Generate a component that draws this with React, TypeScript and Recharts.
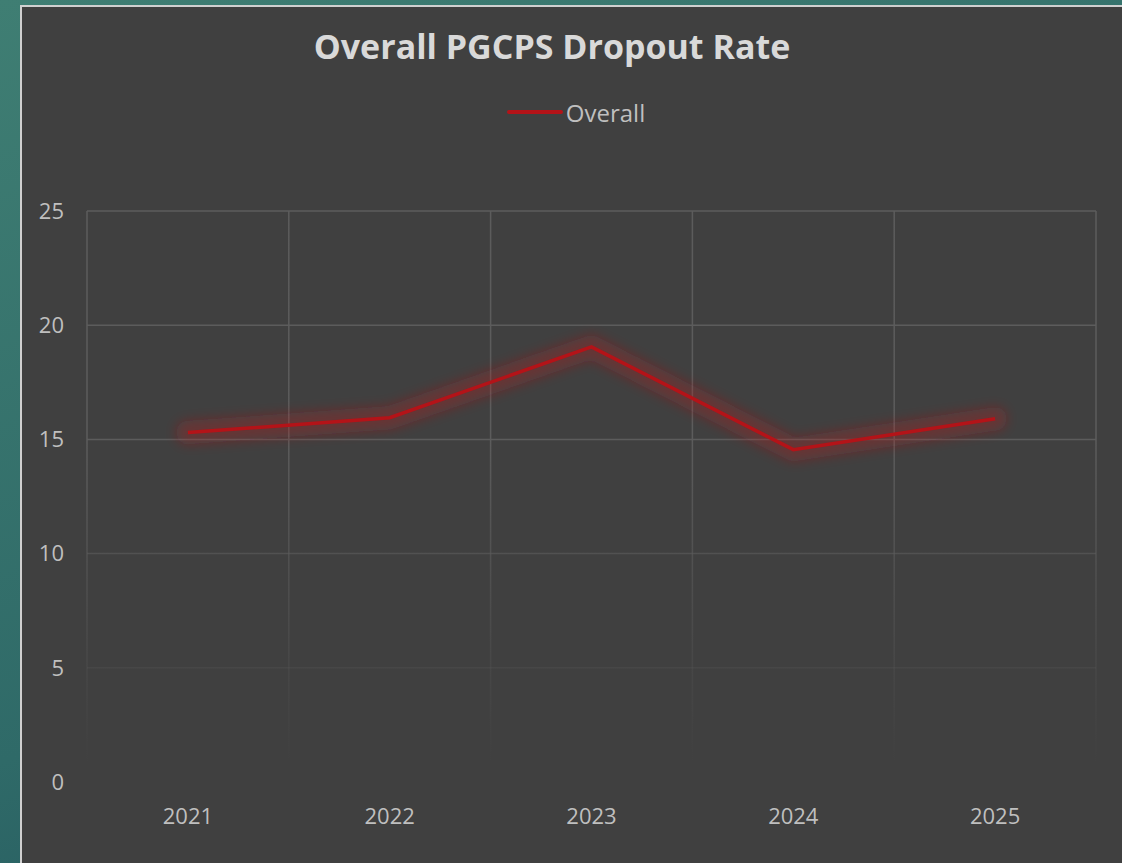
import { LineChart, Line, XAxis, YAxis, CartesianGrid, Legend } from "recharts"

const years = ['2021', '2022', '2023', '2024', '2025']
const overall = [15.3, 15.95, 19.05, 14.55, 15.9]
const yTicks = [0, 5, 10, 15, 20, 25]
const seriesName = 'Overall'

const data = years.map((year, i) => ({ year, overall: overall[i] }))

const FONT = '"Open Sans", "DejaVu Sans", sans-serif'

const renderLegend = () => (
    <div style={{ display: 'flex', justifyContent: 'center', alignItems: 'center', height: 30, paddingLeft: 10, fontFamily: FONT }}>
        <svg width={56} height={10} style={{ marginRight: 3 }}>
            <line x1={2} y1={5} x2={54} y2={5} stroke="#b41318" strokeWidth={4} strokeLinecap="round" />
        </svg>
        <span style={{ color: '#bfbfbf', fontSize: 24 }}>{seriesName}</span>
    </div>
)

const App = () => {
    return (
        <div style={{ position: 'fixed', left: 0, top: 0, width: 1122, height: 863, background: 'linear-gradient(160deg, #3f7e73 0%, #2f6a68 60%, #1f4f5a 100%)', overflow: 'hidden' }}>
            <div style={{ position: 'absolute', left: 20, top: 5, width: 1102, height: 858, background: '#404040', boxShadow: 'inset 2px 2px 0 #d0d0d0' }}>
                <div style={{ position: 'absolute', left: 0, top: 18, width: 1064, textAlign: 'center', fontFamily: FONT, fontWeight: 700, fontSize: 34, color: '#d9d9d9' }}>
                    Overall PGCPS Dropout Rate
                </div>
                <LineChart width={1102} height={858} data={data} margin={{ top: 176, right: 26, left: 0, bottom: 0 }}>
                    <defs>
                        <linearGradient id="gridFade" gradientUnits="userSpaceOnUse" x1="0" y1="206" x2="0" y2="777">
                            <stop offset="0" stopColor="#5c5c5c" stopOpacity={1} />
                            <stop offset="0.4" stopColor="#5c5c5c" stopOpacity={1} />
                            <stop offset="0.8" stopColor="#5c5c5c" stopOpacity={0.25} />
                            <stop offset="0.97" stopColor="#5c5c5c" stopOpacity={0} />
                        </linearGradient>
                        <filter id="softBlur" filterUnits="userSpaceOnUse" x="0" y="100" width="1102" height="600">
                            <feGaussianBlur in="SourceGraphic" stdDeviation="6" />
                        </filter>
                    </defs>
                    <CartesianGrid
                        stroke="url(#gridFade)"
                        strokeWidth={1.5}
                        verticalCoordinatesGenerator={({ offset }: any) =>
                            Array.from({ length: years.length + 1 }, (_, i) => offset.left + (i * offset.width) / years.length)
                        }
                    />
                    <XAxis dataKey="year" scale="band" axisLine={false} tickLine={false} tickMargin={20}
                        tick={{ fill: '#bfbfbf', fontSize: 22, fontFamily: FONT }} height={81} />
                    <YAxis domain={[0, 25]} ticks={yTicks} axisLine={false} tickLine={false} width={67} tickMargin={17}
                        tick={{ fill: '#bfbfbf', fontSize: 22, fontFamily: FONT }} />
                    <Legend verticalAlign="top" align="center" content={renderLegend}
                        wrapperStyle={{ top: 92, left: 0, width: 1102 }} />
                    {/* soft red halo under the line */}
                    <Line type="linear" dataKey="overall" stroke="#b41318" strokeOpacity={0.32} strokeWidth={24}
                        strokeLinecap="round" strokeLinejoin="round" filter="url(#softBlur)"
                        dot={false} activeDot={false} legendType="none" isAnimationActive={false} />
                    <Line type="linear" dataKey="overall" name={seriesName} stroke="#b41318" strokeWidth={3.5}
                        dot={false} activeDot={false} isAnimationActive={false} />
                </LineChart>
            </div>
        </div>
    )
}

export default App
